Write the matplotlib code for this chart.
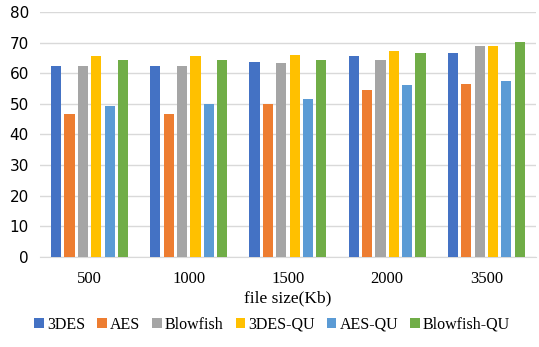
import numpy as np
import matplotlib.pyplot as plt

sizes = ["500", "1000", "1500", "2000", "3500"]
series = ["3DES", "AES", "Blowfish", "3DES-QU", "AES-QU", "Blowfish-QU"]
des3 = [62.4, 62.4, 63.8, 65.6, 66.6]
aes = [46.6, 46.6, 49.8, 54.4, 56.6]
blowfish = [62.4, 62.4, 63.4, 64.3, 68.8]
des3_qu = [65.6, 65.6, 66.0, 67.4, 68.8]
aes_qu = [49.3, 49.9, 51.6, 56.0, 57.4]
blowfish_qu = [64.3, 64.3, 64.3, 66.6, 70.2]
values = [des3, aes, blowfish, des3_qu, aes_qu, blowfish_qu]
colors = ["#4472C4", "#ED7D31", "#A5A5A5", "#FFC000", "#5B9BD5", "#70AD47"]

fig = plt.figure(figsize=(5.39, 3.47), dpi=100)
ax = fig.add_axes([0.0742, 0.260, 0.920, 0.7054])

x = np.arange(len(sizes))
slot = 0.135
for i, (name, vals) in enumerate(zip(series, values)):
    ax.bar(x + (i - 2.5) * slot, vals, width=slot * 0.76, color=colors[i],
           label=name, zorder=3)

ax.set_xlim(-0.5, len(sizes) - 0.5)
ax.set_ylim(0, 80)
ax.set_yticks(range(0, 81, 10))
ax.yaxis.grid(True, color="#D9D9D9", linewidth=1, zorder=0)
for s in ["top", "right", "left"]:
    ax.spines[s].set_visible(False)
ax.spines["bottom"].set_color("#D9D9D9")
ax.tick_params(axis="both", length=0)
ax.tick_params(axis="y", labelsize=11, pad=8)
ax.set_xticks(x)
ax.set_xticklabels(sizes, family="Liberation Serif", fontsize=12)
ax.tick_params(axis="x", pad=10)
ax.set_xlabel("file size(Kb)", family="Liberation Serif", fontsize=12.5, labelpad=3)

fig.legend(loc="lower center", ncol=6, bbox_to_anchor=(0.505, 0.0),
           frameon=False, prop={"family": "Liberation Serif", "size": 11.5},
           handlelength=0.6, handleheight=0.6, handletextpad=0.2,
           columnspacing=0.75)

fig.savefig("out.png", dpi=100)
